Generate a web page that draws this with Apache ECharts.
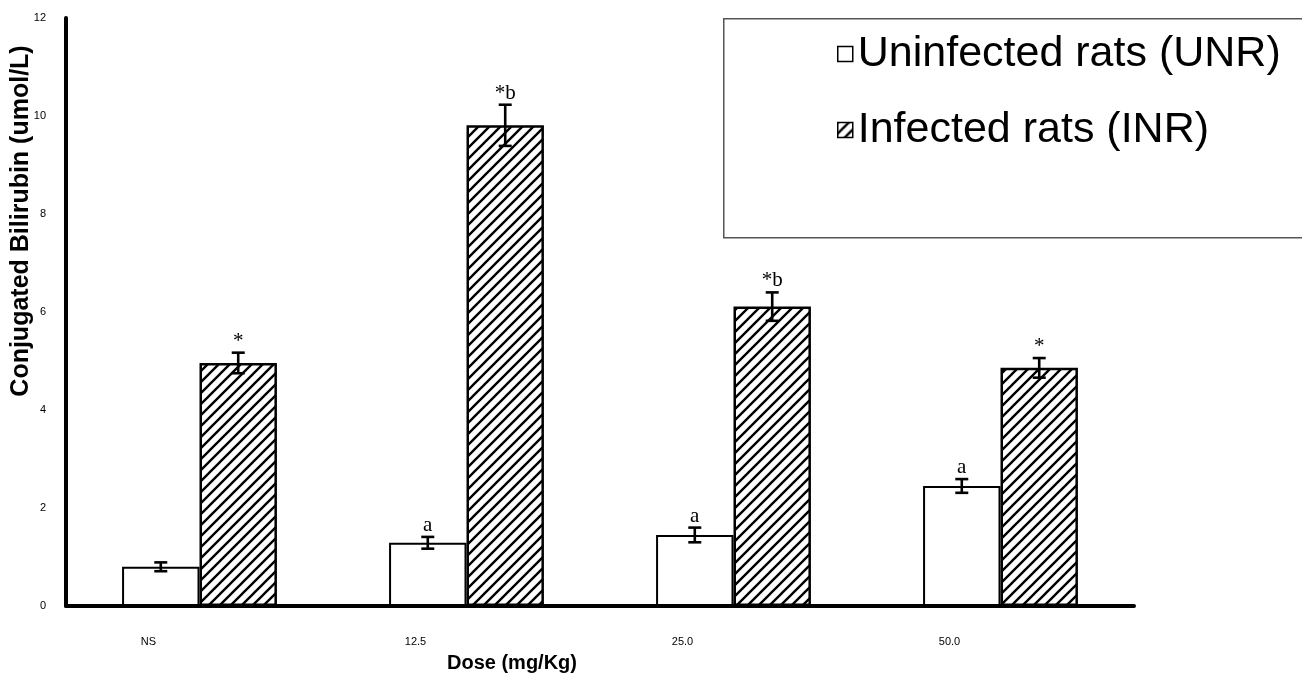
<!DOCTYPE html>
<html>
<head>
<meta charset="utf-8">
<script src="https://cdn.jsdelivr.net/npm/echarts@6/dist/echarts.min.js"></script>
<style>html,body{margin:0;padding:0;background:#fff}#c{width:1302px;height:673px}</style>
</head>
<body>
<div id="c"></div>
<script>
var categories = ['NS', '12.5', '25.0', '50.0'];
var unrMeans = [0.80, 1.29, 1.45, 2.45];
var unrErr = [0.09, 0.12, 0.15, 0.14];
var inrMeans = [4.96, 9.81, 6.11, 4.86];
var inrErr = [0.21, 0.42, 0.29, 0.20];
var unrMarks = ['', 'a', 'a', 'a'];
var inrMarks = ['*', '*b', '*b', '*'];
var yTicks = [0, 2, 4, 6, 8, 10, 12];

function hatch() {
  var s = 11;
  var c = document.createElement('canvas');
  c.width = s; c.height = s;
  var g = c.getContext('2d');
  g.fillStyle = '#fff'; g.fillRect(0, 0, s, s);
  g.strokeStyle = '#000'; g.lineWidth = 2.4;
  g.beginPath();
  g.moveTo(-2, s + 2); g.lineTo(s + 2, -2);
  g.moveTo(-2, 2); g.lineTo(2, -2);
  g.moveTo(s - 2, s + 2); g.lineTo(s + 2, s - 2);
  g.stroke();
  return c;
}
var hatchFill = { image: hatch(), repeat: 'repeat' };

var chart = echarts.init(document.getElementById('c'), null, { renderer: 'canvas' });
var gapPct = 0.42;

function errRender(means, errs, marks, side) {
  return function (params, api) {
    var i = api.value(0);
    var m = means[i], e = errs[i];
    var band = api.size([1, 0])[0];
    var bw = band * (1 - gapPct) / 2;
    var c = api.coord([i, m]);
    var x = c[0] + side * bw / 2;
    var yt = api.coord([i, m + e])[1];
    var yb = api.coord([i, m - e])[1];
    var cap = 6.5;
    var st = { stroke: '#000', lineWidth: 2.6 };
    var ch = [
      { type: 'line', shape: { x1: x, y1: yt, x2: x, y2: yb }, style: st },
      { type: 'line', shape: { x1: x - cap, y1: yt, x2: x + cap, y2: yt }, style: st },
      { type: 'line', shape: { x1: x - cap, y1: yb, x2: x + cap, y2: yb }, style: st }
    ];
    if (marks[i]) {
      ch.push({ type: 'text', style: { text: marks[i], x: x, y: yt - 1, align: 'center', verticalAlign: 'bottom',
        font: '21px "Liberation Serif", "Times New Roman", serif', fill: '#000' } });
    }
    return { type: 'group', children: ch };
  };
}

var option = {
  animation: false,
  backgroundColor: '#fff',
  grid: { left: 66, right: 168, top: 18, bottom: 67, containLabel: false },
  legend: {
    orient: 'vertical', left: 832, top: 27, itemGap: 32,
    itemWidth: 15, itemHeight: 15, icon: 'rect',
    textStyle: { fontSize: 43, fontFamily: '"Liberation Sans", Arial, sans-serif', color: '#000', lineHeight: 44 },
    data: [
      { name: 'Uninfected rats (UNR)', itemStyle: { color: '#fff', borderColor: '#000', borderWidth: 1.5 } },
      { name: 'Infected rats (INR)', itemStyle: { color: hatchFill, borderColor: '#000', borderWidth: 1.5 } }
    ]
  },
  xAxis: {
    type: 'category', data: categories, boundaryGap: true,
    axisLine: { lineStyle: { color: '#000', width: 4 } },
    axisTick: { show: false },
    axisLabel: { color: '#000', fontSize: 11, fontFamily: '"Liberation Sans Narrow", "Liberation Sans", Arial, sans-serif', margin: 30, padding: [0, 102, 0, 0] }
  },
  yAxis: {
    type: 'value', min: 0, max: 12, interval: 2,
    axisLine: { show: true, lineStyle: { color: '#000', width: 4 } },
    axisTick: { show: false },
    splitLine: { show: false },
    axisLabel: { color: '#000', fontSize: 11, fontFamily: '"Liberation Sans", Arial, sans-serif', margin: 20,
      formatter: function (v) { return yTicks.indexOf(v) >= 0 ? String(v) : ''; } }
  },
  graphic: [
    { type: 'rect', left: 723, top: 18, z: -1, shape: { width: 620, height: 219 }, style: { fill: '#fff', stroke: '#555', lineWidth: 1.5 } },
    { type: 'text', x: 21, y: 221, rotation: Math.PI / 2, style: { text: 'Conjugated Bilirubin (umol/L)', align: 'center', verticalAlign: 'middle',
      font: 'bold 25px "Liberation Sans", Arial, sans-serif', fill: '#000' } },
    { type: 'text', x: 512, y: 663, style: { text: 'Dose (mg/Kg)', align: 'center', verticalAlign: 'middle',
      font: 'bold 20px "Liberation Sans", Arial, sans-serif', fill: '#000' } }
  ],
  series: [
    { name: 'Uninfected rats (UNR)', type: 'bar', data: unrMeans, barGap: '0%', barCategoryGap: '42%',
      itemStyle: { color: '#fff', borderColor: '#000', borderWidth: 2 } },
    { name: 'Infected rats (INR)', type: 'bar', data: inrMeans, barGap: '0%', barCategoryGap: '42%',
      itemStyle: { color: hatchFill, borderColor: '#000', borderWidth: 2.5 } },
    { type: 'custom', data: categories.map(function (c, i) { return [i]; }), renderItem: errRender(unrMeans, unrErr, unrMarks, -1), z: 10 },
    { type: 'custom', data: categories.map(function (c, i) { return [i]; }), renderItem: errRender(inrMeans, inrErr, inrMarks, 1), z: 10 }
  ]
};
chart.setOption(option);
</script>
</body>
</html>
